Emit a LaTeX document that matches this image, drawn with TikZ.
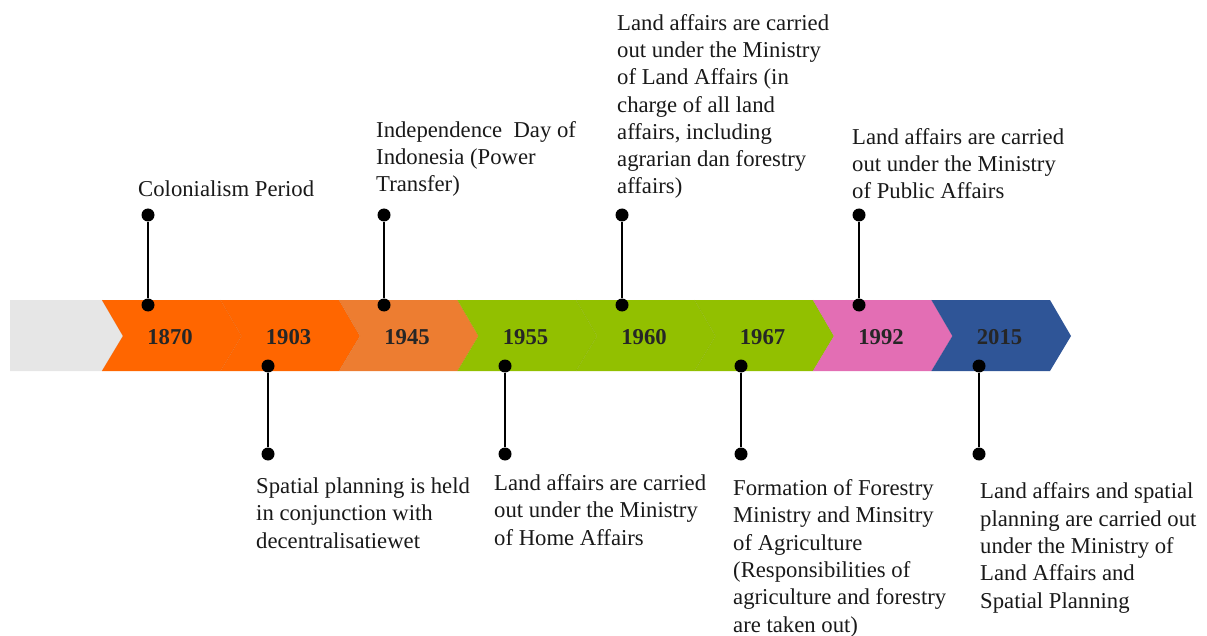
\documentclass[tikz,border=0pt]{standalone}
\usepackage{fontspec}
\setmainfont{Liberation Serif}
\begin{document}
\begin{tikzpicture}[x=1pt,y=-1pt,
  yearlbl/.style={font=\fontsize{22.7}{27}\selectfont\bfseries, text=black!85, inner sep=0},
  desc/.style={font=\fontsize{22.7}{27.33}\selectfont, align=left, anchor=base west, inner sep=0, text=black!90},
  pin/.style={circle, fill=black, minimum size=13pt, inner sep=0},
  stem/.style={line width=2pt, black}
]
\definecolor{cgray}{HTML}{E6E6E6}
\definecolor{corange}{HTML}{FF6600}
\definecolor{corange2}{HTML}{ED7D31}
\definecolor{cgreen}{HTML}{92C000}
\definecolor{cpink}{HTML}{E36EB4}
\definecolor{cblue}{HTML}{2F5597}
\useasboundingbox (0,0) rectangle (1207,636);
% gray start
\fill[cgray] (10,300) -- (102,300) -- (123,336) -- (102,371) -- (10,371) -- cycle;
% chevrons
\foreach \i/\c/\yr in {0/corange/1870,1/corange/1903,2/corange2/1945,3/cgreen/1955,4/cgreen/1960,5/cgreen/1967,6/cpink/1992,7/cblue/2015}{
  \pgfmathsetmacro{\s}{102+118.5*\i}
  \fill[\c] (\s,300) -- ({\s+118.5},300) -- ({\s+139.5},336) -- ({\s+118.5},371) -- (\s,371) -- ({\s+21},336) -- cycle;
  \draw[\c!85!black, line width=0.5pt, opacity=0.35] (\s,300) -- ({\s+21},336) -- (\s,371);
  \node[yearlbl] (y\yr) at ({\s+68},337) {\yr};
}
% pins above
\node[pin] (t1870) at (148,305) {}; \node[pin] (h1870) at (148,215) {};
\node[pin] (t1945) at (384,305) {}; \node[pin] (h1945) at (384,215) {};
\node[pin] (t1960) at (622,305) {}; \node[pin] (h1960) at (622,215) {};
\node[pin] (t1992) at (859,305) {}; \node[pin] (h1992) at (859,215) {};
% pins below
\node[pin] (t1903) at (268,366) {}; \node[pin] (h1903) at (268,454) {};
\node[pin] (t1955) at (505,366) {}; \node[pin] (h1955) at (505,454) {};
\node[pin] (t1967) at (741,366) {}; \node[pin] (h1967) at (741,454) {};
\node[pin] (t2015) at (979,366) {}; \node[pin] (h2015) at (979,454) {};
\foreach \yr in {1870,1945,1960,1992,1903,1955,1967,2015}{
  \draw[stem] (t\yr) -- (h\yr);
}
% descriptions (anchor = baseline of last line)
\node[desc] (d1870) at (138,197) {Colonialism Period};
\node[desc] (d1945) at (376,192) {Independence\ \ Day of\\Indonesia (Power\\Transfer)};
\node[desc] (d1960) at (617,194) {Land affairs are carried\\out under the Ministry\\of Land Affairs (in\\charge of all land\\affairs, including\\agrarian dan forestry\\affairs)};
\node[desc] (d1992) at (852,199) {Land affairs are carried\\out under the Ministry\\of Public Affairs};
\node[desc] (d1903) at (256,548) {Spatial planning is held\\in conjunction with\\decentralisatiewet};
\node[desc] (d1955) at (494,545) {Land affairs are carried\\out under the Ministry\\of Home Affairs};
\node[desc] (d1967) at (733,632) {Formation of Forestry\\Ministry and Minsitry\\of Agriculture\\(Responsibilities of\\agriculture and forestry\\are taken out)};
\node[desc] (d2015) at (980,608) {Land affairs and spatial\\planning are carried out\\under the Ministry of\\Land Affairs and\\Spatial Planning};
\end{tikzpicture}
\end{document}
